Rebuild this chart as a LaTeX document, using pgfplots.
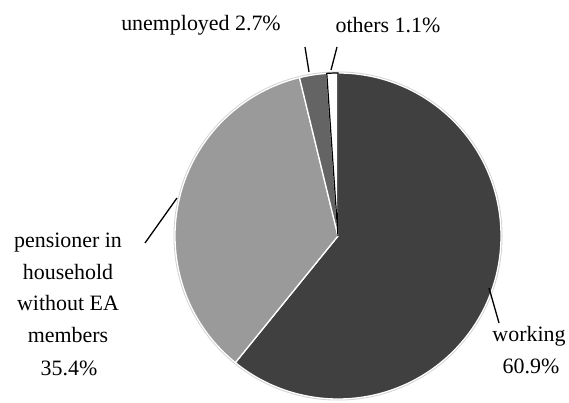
\documentclass[border=0pt]{standalone}
\usepackage{pgfplots}
\pgfplotsset{compat=1.18}
\usepackage{pgfplotstable}
\usepackage{fontspec}
\setmainfont{Liberation Serif}
\definecolor{cwork}{HTML}{404040}
\definecolor{cpens}{HTML}{9A9A9A}
\definecolor{cunem}{HTML}{646464}
\pgfplotstableread{
label value
working 60.9
pensioner 35.4
unemployed 2.7
others 1.1
}\piedata
\tikzset{lbl/.style={anchor=base,inner sep=0,font=\fontsize{22}{26}\selectfont}}
\begin{document}
\begin{tikzpicture}
\pgfplotstablegetelem{0}{value}\of\piedata \let\vA\pgfplotsretval
\pgfplotstablegetelem{1}{value}\of\piedata \let\vB\pgfplotsretval
\pgfplotstablegetelem{2}{value}\of\piedata \let\vC\pgfplotsretval
\pgfplotstablegetelem{3}{value}\of\piedata \let\vD\pgfplotsretval
\pgfmathsetmacro{\tot}{\vA+\vB+\vC+\vD}
\pgfmathsetmacro{\aA}{90-\vA/\tot*360}
\pgfmathsetmacro{\aB}{\aA-\vB/\tot*360}
\pgfmathsetmacro{\aC}{\aB-\vC/\tot*360}
\pgfmathsetmacro{\aD}{\aC-\vD/\tot*360}
\begin{axis}[width=569bp,height=403bp,scale only axis,
  xmin=0,xmax=569,ymin=0,ymax=403,hide axis,clip=false]
\path (axis cs:0,0) rectangle (axis cs:569,403);
% halo
\draw[black!18,line width=3bp] (axis cs:338,167) circle[radius=163bp];
% wedges
\fill[cwork,draw=white,line width=1.3bp] (axis cs:338,167) -- ++(90:163bp) arc[start angle=90,end angle=\aA,radius=163bp] -- cycle;
\fill[cpens,draw=white,line width=1.3bp] (axis cs:338,167) -- ++(\aA:163bp) arc[start angle=\aA,end angle=\aB,radius=163bp] -- cycle;
\fill[cunem,draw=white,line width=1.3bp] (axis cs:338,167) -- ++(\aB:163bp) arc[start angle=\aB,end angle=\aC,radius=163bp] -- cycle;
\filldraw[fill=white,draw=black,line width=1.2bp] (axis cs:338,167) -- ++(\aC:163bp) arc[start angle=\aC,end angle=\aD,radius=163bp] -- cycle;
% leader lines
\draw[black,line width=1.3bp] (axis cs:305,356) -- (axis cs:309,331);
\draw[black,line width=1.3bp] (axis cs:337,356) -- (axis cs:331,333);
\draw[black,line width=1.3bp] (axis cs:145,160) -- (axis cs:177,205);
\draw[black,line width=1.3bp] (axis cs:489,115) -- (axis cs:499,80);
% labels
\node[lbl] at (axis cs:201,372) {unemployed 2.7\%};
\node[lbl] at (axis cs:388,370) {others 1.1\%};
\node[lbl] at (axis cs:68,155) {pensioner in};
\node[lbl] at (axis cs:68,123) {household};
\node[lbl] at (axis cs:68,92) {without EA};
\node[lbl] at (axis cs:68,60) {members};
\node[lbl] at (axis cs:69,28) {35.4\%};
\node[lbl] at (axis cs:529,61) {working};
\node[lbl] at (axis cs:531,30) {60.9\%};
\end{axis}
\end{tikzpicture}
\end{document}
